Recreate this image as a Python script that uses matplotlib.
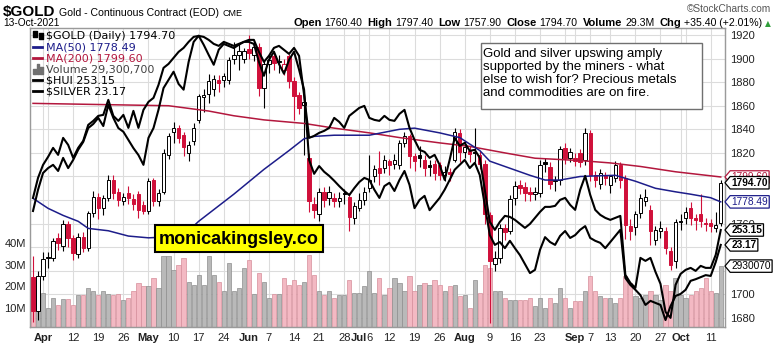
import matplotlib
matplotlib.use("Agg")
import matplotlib.pyplot as plt
import matplotlib.transforms as mtransforms
from matplotlib.lines import Line2D
from matplotlib.patches import Rectangle
from matplotlib.path import Path
import numpy as np
import pandas as pd

plt.rcParams["text.parse_math"] = False
plt.rcParams["font.family"] = ["Liberation Sans", "DejaVu Sans"]

# COMEX trading days, 30 Mar - 13 Oct 2021
holidays = ["2021-04-02", "2021-05-31", "2021-07-05", "2021-09-06"]
dates = pd.bdate_range("2021-03-30", "2021-10-13", freq="C", holidays=holidays)

gold_open = [
    1715, 1686, 1716, 1732, 1731, 1748, 1741, 1760, 1748, 1734,
    1749, 1739, 1769, 1783, 1773, 1782, 1797, 1787, 1779, 1786,
    1781, 1785, 1776, 1771, 1797, 1779, 1787, 1818, 1838, 1841,
    1835, 1820, 1830, 1848, 1867, 1870, 1874, 1882, 1882, 1882,
    1900, 1903, 1900, 1908, 1903, 1910, 1875, 1895, 1902, 1898,
    1890, 1902, 1881, 1869, 1861, 1816, 1777, 1768, 1787, 1782,
    1782, 1779, 1786, 1783, 1765, 1773, 1780, 1790, 1800, 1807,
    1807, 1813, 1811, 1810, 1828, 1834, 1817, 1818, 1814, 1810,
    1811, 1810, 1801, 1804, 1814, 1837, 1821, 1822, 1821, 1818,
    1811, 1767, 1726, 1731, 1756, 1754, 1782, 1793, 1791, 1787,
    1785, 1786, 1812, 1808, 1796, 1797, 1824, 1816, 1816, 1820,
    1814, 1837, 1801, 1794, 1801, 1793, 1799, 1810, 1799, 1758,
    1757, 1769, 1779, 1772, 1746, 1754, 1754, 1737, 1728, 1762,
    1765, 1773, 1765, 1768, 1760.5, 1760.5, 1756, 1760.4,
]
gold_high = [
    1733, 1720, 1736, 1736, 1748, 1752, 1763, 1762, 1750, 1752,
    1753, 1771, 1788, 1786, 1784, 1801, 1801, 1790, 1786, 1792,
    1785, 1788, 1779, 1799, 1799, 1789, 1823, 1837, 1846, 1844,
    1838, 1830, 1845, 1870, 1874, 1887, 1886, 1886, 1888, 1901,
    1914, 1912, 1909, 1920, 1915, 1913, 1898, 1903, 1905, 1903,
    1900, 1904, 1884, 1872, 1868, 1820, 1783, 1790, 1791, 1792,
    1786, 1787, 1789, 1786, 1778, 1786, 1791, 1818, 1810, 1822,
    1818, 1815, 1819, 1831, 1838, 1836, 1820, 1826, 1818, 1814,
    1814, 1812, 1809, 1807, 1841, 1840, 1830, 1826, 1841, 1822,
    1814, 1770, 1737, 1760, 1760, 1784, 1796, 1797, 1795, 1791,
    1791, 1814, 1816, 1812, 1800, 1826, 1828, 1824, 1820, 1823,
    1841, 1839, 1805, 1806, 1804, 1801, 1813, 1812, 1801, 1764,
    1771, 1785, 1789, 1776, 1758, 1762, 1757, 1740, 1764, 1768,
    1774, 1778, 1768, 1785, 1765, 1764, 1770, 1797.4,
]
gold_low = [
    1677, 1678, 1712, 1722, 1728, 1738, 1737, 1740, 1729, 1731,
    1736, 1737, 1766, 1764, 1767, 1779, 1781, 1775, 1776, 1777,
    1772, 1765, 1768, 1768, 1775, 1775, 1785, 1815, 1828, 1828,
    1817, 1813, 1827, 1845, 1855, 1862, 1868, 1872, 1876, 1878,
    1895, 1890, 1896, 1900, 1898, 1868, 1858, 1888, 1890, 1888,
    1886, 1875, 1848, 1853, 1818, 1770, 1765, 1762, 1774, 1776,
    1774, 1774, 1777, 1754, 1760, 1771, 1776, 1787, 1795, 1793,
    1803, 1801, 1806, 1806, 1825, 1807, 1805, 1808, 1800, 1800,
    1797, 1797, 1796, 1796, 1812, 1812, 1816, 1812, 1812, 1806,
    1760, 1676, 1720, 1727, 1746, 1751, 1776, 1785, 1779, 1779,
    1780, 1783, 1804, 1789, 1788, 1793, 1811, 1812, 1809, 1808,
    1810, 1796, 1791, 1789, 1793, 1786, 1795, 1790, 1747, 1746,
    1750, 1765, 1775, 1742, 1742, 1748, 1734, 1721, 1722, 1755,
    1760, 1759, 1755, 1757, 1754, 1753, 1753, 1757.9,
]
gold_close = [
    1686, 1716, 1730, 1731, 1745, 1744, 1760, 1748, 1735, 1749,
    1739, 1769, 1783, 1773, 1782, 1797, 1786, 1780, 1783, 1782,
    1777, 1772, 1771, 1796, 1779, 1786, 1820, 1834, 1841, 1833,
    1825, 1827, 1841, 1868, 1869, 1881, 1883, 1879, 1885, 1899,
    1903, 1906, 1906, 1905, 1910, 1875, 1895, 1899, 1896, 1897,
    1895, 1881, 1868, 1858, 1863, 1779, 1772, 1787, 1780, 1787,
    1779, 1782, 1785, 1766, 1775, 1780, 1787, 1797, 1806, 1803,
    1814, 1810, 1814, 1828, 1834, 1817, 1813, 1816, 1807, 1808,
    1803, 1801, 1804, 1802, 1838, 1821, 1825, 1819, 1820, 1811,
    1768, 1728, 1731, 1756, 1753, 1781, 1792, 1790, 1786, 1785,
    1787, 1810, 1811, 1794, 1797, 1823, 1816, 1821, 1813, 1812,
    1837, 1801, 1797, 1803, 1799, 1800, 1810, 1797, 1759, 1754,
    1768, 1782, 1783, 1754, 1755, 1756, 1739, 1725, 1761, 1761.5,
    1770, 1765, 1763.5, 1762, 1760, 1758, 1759.3, 1794.7,
]
# daily volume, millions of contracts
volume_m = [
    20, 20.5, 17, 10, 14.6, 11.4, 14, 14, 11.5, 16,
    16, 19, 17.6, 16, 17.6, 16.5, 16, 16.5, 13.5, 14.6,
    17.6, 21.5, 20, 20, 23.8, 19, 33.8, 33.8, 27.6, 30,
    33, 22, 20.7, 25.3, 20.7, 33.8, 25.3, 22.2, 17.6, 30.7,
    17.6, 19.2, 28.4, 32.3, 16.5, 26, 22.2, 14.6, 16.5, 16.5,
    23.8, 20.7, 23, 20.7, 22.2, 34.6, 25.3, 17.6, 16.1, 17.6,
    14.6, 16.1, 16.1, 23, 17, 17, 20, 26.9, 17, 23.8,
    16.1, 19.2, 23.8, 21.5, 17.6, 24.6, 17.6, 20.7, 21.5, 20.7,
    23, 20.7, 17.6, 20, 20.7, 15.4, 16.1, 10, 23, 17,
    30, 28.4, 17.6, 17.6, 14.6, 13.8, 13.8, 13.8, 13.8, 14.6,
    10.8, 14.6, 10, 14.6, 12.3, 19.2, 14.6, 10, 13.1, 13.1,
    17.6, 24.6, 17.6, 15.4, 14.6, 14.6, 12.3, 14.6, 24.6, 21.5,
    15.4, 14.6, 16.1, 17.6, 16.1, 13.8, 20.7, 17.6, 23.8, 16.1,
    14.6, 16.1, 17.6, 19.2, 23.8, 17.6, 17, 29.3007,
]
hui = [
    266.0, 274.0, 279.2, 282.4, 286.0, 283.2, 290.0, 287.2, 282.0, 286.0,
    288.8, 295.2, 296.8, 298.8, 299.2, 305.2, 298.8, 296.8, 299.2, 294.0,
    300.8, 294.0, 301.2, 304.4, 306.0, 311.2, 318.0, 319.6, 322.0, 324.4,
    326.0, 328.4, 330.4, 330.8, 330.4, 329.2, 327.6, 326.8, 328.4, 327.6,
    326.8, 327.6, 328.4, 329.2, 329.2, 324.4, 320.4, 322.8, 326.0, 326.8,
    325.2, 323.6, 326.0, 322.8, 307.2, 290.0, 290.8, 292.0, 292.8, 294.0,
    298.0, 296.4, 294.0, 298.8, 300.4, 302.0, 302.8, 298.0, 297.2, 296.8,
    298.8, 297.2, 296.8, 299.6, 301.2, 294.0, 289.2, 285.2, 284.4, 282.0,
    283.2, 279.2, 273.2, 281.2, 290.0, 286.8, 288.0, 284.8, 285.2, 282.0,
    269.2, 256.4, 253.2, 256.4, 258.8, 258.4, 257.2, 255.6, 254.0, 255.6,
    258.0, 260.4, 262.4, 262.4, 262.8, 265.2, 266.0, 263.2, 261.2, 269.2,
    274.8, 267.2, 261.2, 259.2, 258.0, 257.2, 258.0, 258.8, 235.2, 232.0,
    230.0, 242.0, 240.8, 242.0, 236.4, 231.6, 220.4, 218.0, 231.2, 235.6,
    237.2, 238.0, 236.8, 238.8, 238.0, 238.0, 243.2, 253.15,
]
silver = [
    24.00, 24.52, 24.93, 25.05, 25.13, 24.98, 25.30, 25.05, 25.25, 25.50,
    25.69, 26.03, 26.13, 26.28, 26.08, 26.60, 26.28, 26.03, 25.94, 25.74,
    25.54, 25.37, 25.13, 25.79, 26.03, 26.48, 27.01, 27.21, 27.41, 27.11,
    26.97, 27.65, 28.14, 28.29, 28.07, 27.82, 27.58, 27.95, 28.09, 28.04,
    27.99, 28.07, 28.14, 28.14, 28.09, 27.65, 27.31, 27.70, 27.90, 27.60,
    27.36, 27.70, 27.90, 27.46, 26.97, 25.25, 24.91, 25.10, 24.96, 24.86,
    24.74, 24.61, 24.49, 24.39, 24.56, 24.71, 24.81, 24.76, 24.52, 24.32,
    24.61, 24.69, 24.49, 24.76, 24.98, 24.64, 24.07, 24.27, 24.37, 24.02,
    24.17, 24.32, 24.52, 24.76, 25.01, 25.13, 25.25, 25.05, 25.18, 24.88,
    24.15, 23.41, 23.17, 23.24, 23.09, 23.27, 23.09, 22.92, 22.70, 22.48,
    22.56, 23.05, 23.36, 23.24, 23.17, 23.39, 23.51, 23.34, 23.41, 23.54,
    23.63, 23.34, 23.27, 23.22, 23.09, 23.24, 23.39, 23.54, 22.36, 22.19,
    22.07, 21.94, 21.70, 21.80, 21.75, 21.70, 21.33, 21.67, 21.92, 21.97,
    22.07, 22.29, 22.33, 22.38, 22.43, 22.41, 22.75, 23.17,
]
ma50_dates = [
    "2021-03-30", "2021-04-05", "2021-04-08", "2021-04-13", "2021-04-15",
    "2021-04-21", "2021-04-27", "2021-05-03", "2021-05-10", "2021-05-13",
    "2021-05-17", "2021-05-26", "2021-06-04", "2021-06-11", "2021-06-16",
    "2021-06-18", "2021-06-24", "2021-07-06", "2021-07-14", "2021-07-19",
    "2021-07-26", "2021-07-30", "2021-08-05", "2021-08-09", "2021-08-13",
    "2021-08-19", "2021-08-24", "2021-08-27", "2021-09-02", "2021-09-08",
    "2021-09-14", "2021-09-20", "2021-09-24", "2021-09-30", "2021-10-05",
    "2021-10-11", "2021-10-13",
]
ma50 = [
    1781.5, 1773, 1767, 1762, 1756, 1754, 1749.5, 1748, 1749, 1754,
    1762, 1785, 1806, 1822, 1832, 1834, 1835, 1835, 1840, 1841,
    1837, 1833, 1822, 1813, 1807, 1801, 1797, 1797, 1800, 1800.5,
    1801, 1796, 1790, 1787, 1785, 1782, 1778.49,
]
ma200_dates = [
    "2021-03-30", "2021-05-07", "2021-05-19", "2021-05-26", "2021-06-04",
    "2021-06-16", "2021-06-24", "2021-07-06", "2021-07-14", "2021-07-26",
    "2021-08-03", "2021-08-12", "2021-08-20", "2021-09-02", "2021-09-13",
    "2021-09-21", "2021-09-30", "2021-10-13",
]
ma200 = [
    1862, 1860, 1855.5, 1851.5, 1848, 1845, 1841, 1837, 1833,
    1828.5, 1825.5, 1820, 1815.5, 1813.5, 1811.5, 1808.5, 1804, 1799.6,
]
tick_dates = [
    "2021-04-01", "2021-04-12", "2021-04-19", "2021-04-26", "2021-05-03",
    "2021-05-10", "2021-05-17", "2021-05-24", "2021-06-01", "2021-06-07",
    "2021-06-14", "2021-06-21", "2021-06-28", "2021-07-01", "2021-07-06",
    "2021-07-12", "2021-07-19", "2021-07-26", "2021-08-02", "2021-08-09",
    "2021-08-16", "2021-08-23", "2021-09-01", "2021-09-07", "2021-09-13",
    "2021-09-20", "2021-09-27", "2021-10-01", "2021-10-11",
]
tick_labels = [
    "Apr", "12", "19", "26", "May", "10", "17", "24", "Jun", "7", "14", "21",
    "28", "Jul", "6", "12", "19", "26", "Aug", "9", "16", "23", "Sep", "7",
    "13", "20", "27", "Oct", "11",
]
month_labels = {"Apr", "May", "Jun", "Jul", "Aug", "Sep", "Oct"}
extra_grid_dates = ["2021-04-05", "2021-08-30", "2021-10-04"]
# price levels whose labels sit under the value tags
price_ticks_hidden = {1720, 1740, 1780, 1800}

RED = "#d0103a"
NAVY = "#1d1d8a"
CRIMSON = "#b3173d"
GRID = "#dcdcdc"

W, H = 774, 347
fig = plt.figure(figsize=(W / 100, H / 100), dpi=100)
rect = [30 / W, 20 / H, 695 / W, 299 / H]
ax_vol = fig.add_axes(rect)
ax = ax_vol.twinx()
ax_hui = ax_vol.twinx()
ax_slv = ax_vol.twinx()

n = len(dates)
x = np.arange(n)
o, hi, lo, c = (np.asarray(a, float) for a in (gold_open, gold_high, gold_low, gold_close))
prev = np.r_[o[0], c[:-1]]
down = c < prev
edge = np.where(down, RED, "black")
face = np.where(c >= o, "white", edge)


def pos(day_list):
    return dates.get_indexer(pd.to_datetime(day_list))


# volume bars and grid at the bottom
price_ticks = np.arange(1680, 1921, 20)
ax_vol.hlines(price_ticks, -1, n + 1, transform=ax.transData, colors=GRID, lw=0.8, zorder=0)
ax_vol.bar(x, volume_m, width=0.84,
           color=np.where(down, "#f3b9c3", "#b9b9b9"),
           edgecolor=np.where(down, "#d68e9b", "#8e8e8e"), linewidth=0.5, zorder=1)
ax_vol.set_axisbelow(True)
ax_vol.set_xticks(pos(tick_dates))
ax_vol.set_xticks(pos(extra_grid_dates), minor=True)
ax_vol.set_xticklabels(tick_labels)
for lbl in ax_vol.get_xticklabels():
    if lbl.get_text() in month_labels:
        lbl.set_fontweight("bold")
ax_vol.grid(axis="x", which="both", color=GRID, lw=0.8)
ax_vol.tick_params(axis="x", which="both", length=0, pad=4, labelsize=8, colors="#222222")
ax_vol.set_yticks([10, 20, 30, 40])
ax_vol.set_yticklabels(["10M", "20M", "30M", "40M"])
ax_vol.tick_params(axis="y", length=0, pad=3, labelsize=8, colors="#222222")

# price candles and moving averages
ax.vlines(x, lo, hi, colors=edge, lw=0.8, zorder=2)
ax.bar(x, np.maximum(np.abs(c - o), 0.7), bottom=np.minimum(o, c), width=0.68,
       color=face, edgecolor=edge, linewidth=0.7, zorder=3)
ax.plot(pos(ma200_dates), ma200, color=CRIMSON, lw=1.1, zorder=4)
ax.plot(pos(ma50_dates), ma50, color=NAVY, lw=1.1, zorder=4)
ax.set_yticks(price_ticks)
ax.set_yticklabels(["" if p in price_ticks_hidden else str(p) for p in price_ticks])
ax.tick_params(axis="y", length=0, pad=4, labelsize=8, colors="#222222")

# overlays on their own scales
ax_hui.plot(x, hui, color="black", lw=1.5)
ax_slv.plot(x, silver, color="black", lw=1.5)
for a in (ax_hui, ax_slv):
    a.yaxis.set_visible(False)

ax_vol.set_xlim(-0.6, n - 0.15)
ax_vol.set_ylim(1.24, 139.0)
ax.set_ylim(1672.4, 1925.9)
ax_hui.set_ylim(214.35, 333.95)
ax_slv.set_ylim(21.16, 28.48)
for a in (ax_vol, ax, ax_hui, ax_slv):
    for sp in a.spines.values():
        sp.set_color("#9a9a9a")
        sp.set_linewidth(0.8)

# legend
candle_icon = Path([(-1, -0.5), (-0.2, -0.5), (-0.2, 0.9), (-1, 0.9), (-1, -0.5),
                    (0.2, -0.9), (1, -0.9), (1, 0.4), (0.2, 0.4), (0.2, -0.9)],
                   [1, 2, 2, 2, 79, 1, 2, 2, 2, 79])
bars_icon = Path([(-1, -1), (-0.45, -1), (-0.45, 0.1), (-1, 0.1), (-1, -1),
                  (-0.3, -1), (0.25, -1), (0.25, 1), (-0.3, 1), (-0.3, -1),
                  (0.4, -1), (1, -1), (1, 0.45), (0.4, 0.45), (0.4, -1)],
                 [1, 2, 2, 2, 79, 1, 2, 2, 2, 79, 1, 2, 2, 2, 79])
handles = [
    Line2D([], [], ls="none", marker=candle_icon, ms=7, color="black"),
    Line2D([], [], color=NAVY, lw=2),
    Line2D([], [], color=CRIMSON, lw=2),
    Line2D([], [], ls="none", marker=bars_icon, ms=7, color="#707070"),
    Line2D([], [], color="black", lw=2),
    Line2D([], [], color="black", lw=2),
]
labels = [
    f"$GOLD (Daily) {gold_close[-1]:.2f}",
    f"MA(50) {ma50[-1]:.2f}",
    f"MA(200) {ma200[-1]:.2f}",
    f"Volume {volume_m[-1] * 1e6:,.0f}",
    f"$HUI {hui[-1]:.2f}",
    f"$SILVER {silver[-1]:.2f}",
]
leg = ax_slv.legend(handles, labels, loc="upper left", frameon=False,
                    prop={"family": "DejaVu Sans", "size": 8},
                    handlelength=0.8, handletextpad=0.3, labelspacing=0.1,
                    borderaxespad=0.1, borderpad=0.2)
for t, col in zip(leg.get_texts(), ["black", NAVY, CRIMSON, "#444444", "black", "black"]):
    t.set_color(col)


# value tags on the right edge
def tag_shape(x0, y0, width, height, mutation_size):
    pad = 0.12 * mutation_size
    x0, y0 = x0 - pad, y0 - pad
    x1, y1 = x0 + width + 2 * pad, y0 + height + 2 * pad
    tip = 0.42 * (y1 - y0)
    ym = 0.5 * (y0 + y1)
    return Path([(x0, y0), (x1, y0), (x1, y1), (x0, y1), (x0 - tip, ym), (x0, y0)], closed=True)


def tag(text, value, axis, color, bold=False):
    tr = mtransforms.blended_transform_factory(ax_slv.transAxes, axis.transData)
    ax_slv.annotate(text, xy=(1, value), xycoords=tr, xytext=(4.6, 0),
                    textcoords="offset points", ha="left", va="center",
                    fontsize=7.3, fontweight="bold" if bold else "normal",
                    color=color, annotation_clip=False,
                    bbox=dict(boxstyle=tag_shape, fc="white", ec=color, lw=0.9))


tag(f"{ma200[-1]:.2f}", ma200[-1], ax, CRIMSON)
tag(f"{gold_close[-1]:.2f}", gold_close[-1], ax, "black", bold=True)
tag(f"{ma50[-1]:.2f}", ma50[-1], ax, NAVY)
tag(f"{hui[-1]:.2f}", hui[-1], ax_hui, "black", bold=True)
tag(f"{silver[-1]:.2f}", silver[-1], ax_slv, "black", bold=True)
tag("2930070", volume_m[-1], ax_vol, "black")


def px(xp, yp):
    return xp / W, 1 - yp / H


renderer = fig.canvas.get_renderer()


def text_row(parts, x_start, baseline, align="left", x_end=None):
    """Lay out a row of differently styled strings side by side."""
    items = []
    for s, style, gap in parts:
        t = fig.text(0, 1 - baseline / H, s, va="baseline", **style)
        items.append((t, gap))
    widths = [t.get_window_extent(renderer).width for t, _ in items]
    total = sum(widths) + sum(g for _, g in items[:-1])
    xpos = x_start if align == "left" else x_end - total
    for (t, g), w in zip(items, widths):
        t.set_x(xpos / W)
        xpos += w + g


# header
text_row([("$GOLD", dict(fontweight="bold", fontsize=11), 4),
          ("Gold - Continuous Contract (EOD)", dict(fontsize=7.6), 3),
          ("CME", dict(fontsize=6.5), 0)], 3, 16)
fig.text(*px(771, 12), "\u00a9StockCharts.com", fontsize=7.3, color="#555555",
         ha="right", va="baseline")
fig.text(*px(3, 26), "13-Oct-2021", fontsize=7.3, va="baseline")

bold = dict(fontsize=8, fontweight="bold")
plain = dict(fontsize=7.6)
text_row([("Open", bold, 3), ("1760.40", plain, 5), ("High", bold, 3), ("1797.40", plain, 5),
          ("Low", bold, 3), ("1757.90", plain, 5), ("Close", bold, 3), ("1794.70", plain, 5),
          ("Volume", bold, 3), ("29.3M", plain, 5), ("Chg", bold, 3),
          ("+35.40 (+2.01%)", plain, 3),
          ("\u25b2", dict(family=["DejaVu Sans"], fontsize=5.5, color="#2f9e3a"), 0)],
         0, 26, align="right", x_end=771)

# commentary box
fig.add_artist(Rectangle(px(481, 109), 221 / W, 66 / H, transform=fig.transFigure,
                         facecolor="white", edgecolor="#707070", lw=1, zorder=5))
fig.text(*px(483, 48), "Gold and silver upswing amply\nsupported by the miners - what\n"
         "else to wish for? Precious metals\nand commodities are on fire.",
         fontsize=9.5, linespacing=1.12, va="top", ha="left", zorder=6)

# site banner
fig.add_artist(Rectangle(px(155, 252), 168 / W, 27 / H, transform=fig.transFigure,
                         facecolor="#ffff00", edgecolor="black", lw=1.5, zorder=5))
fig.text(*px(239, 239), "monicakingsley.co", fontsize=13, fontweight="bold",
         ha="center", va="center", zorder=6)

fig.savefig("out.png", dpi=100)
